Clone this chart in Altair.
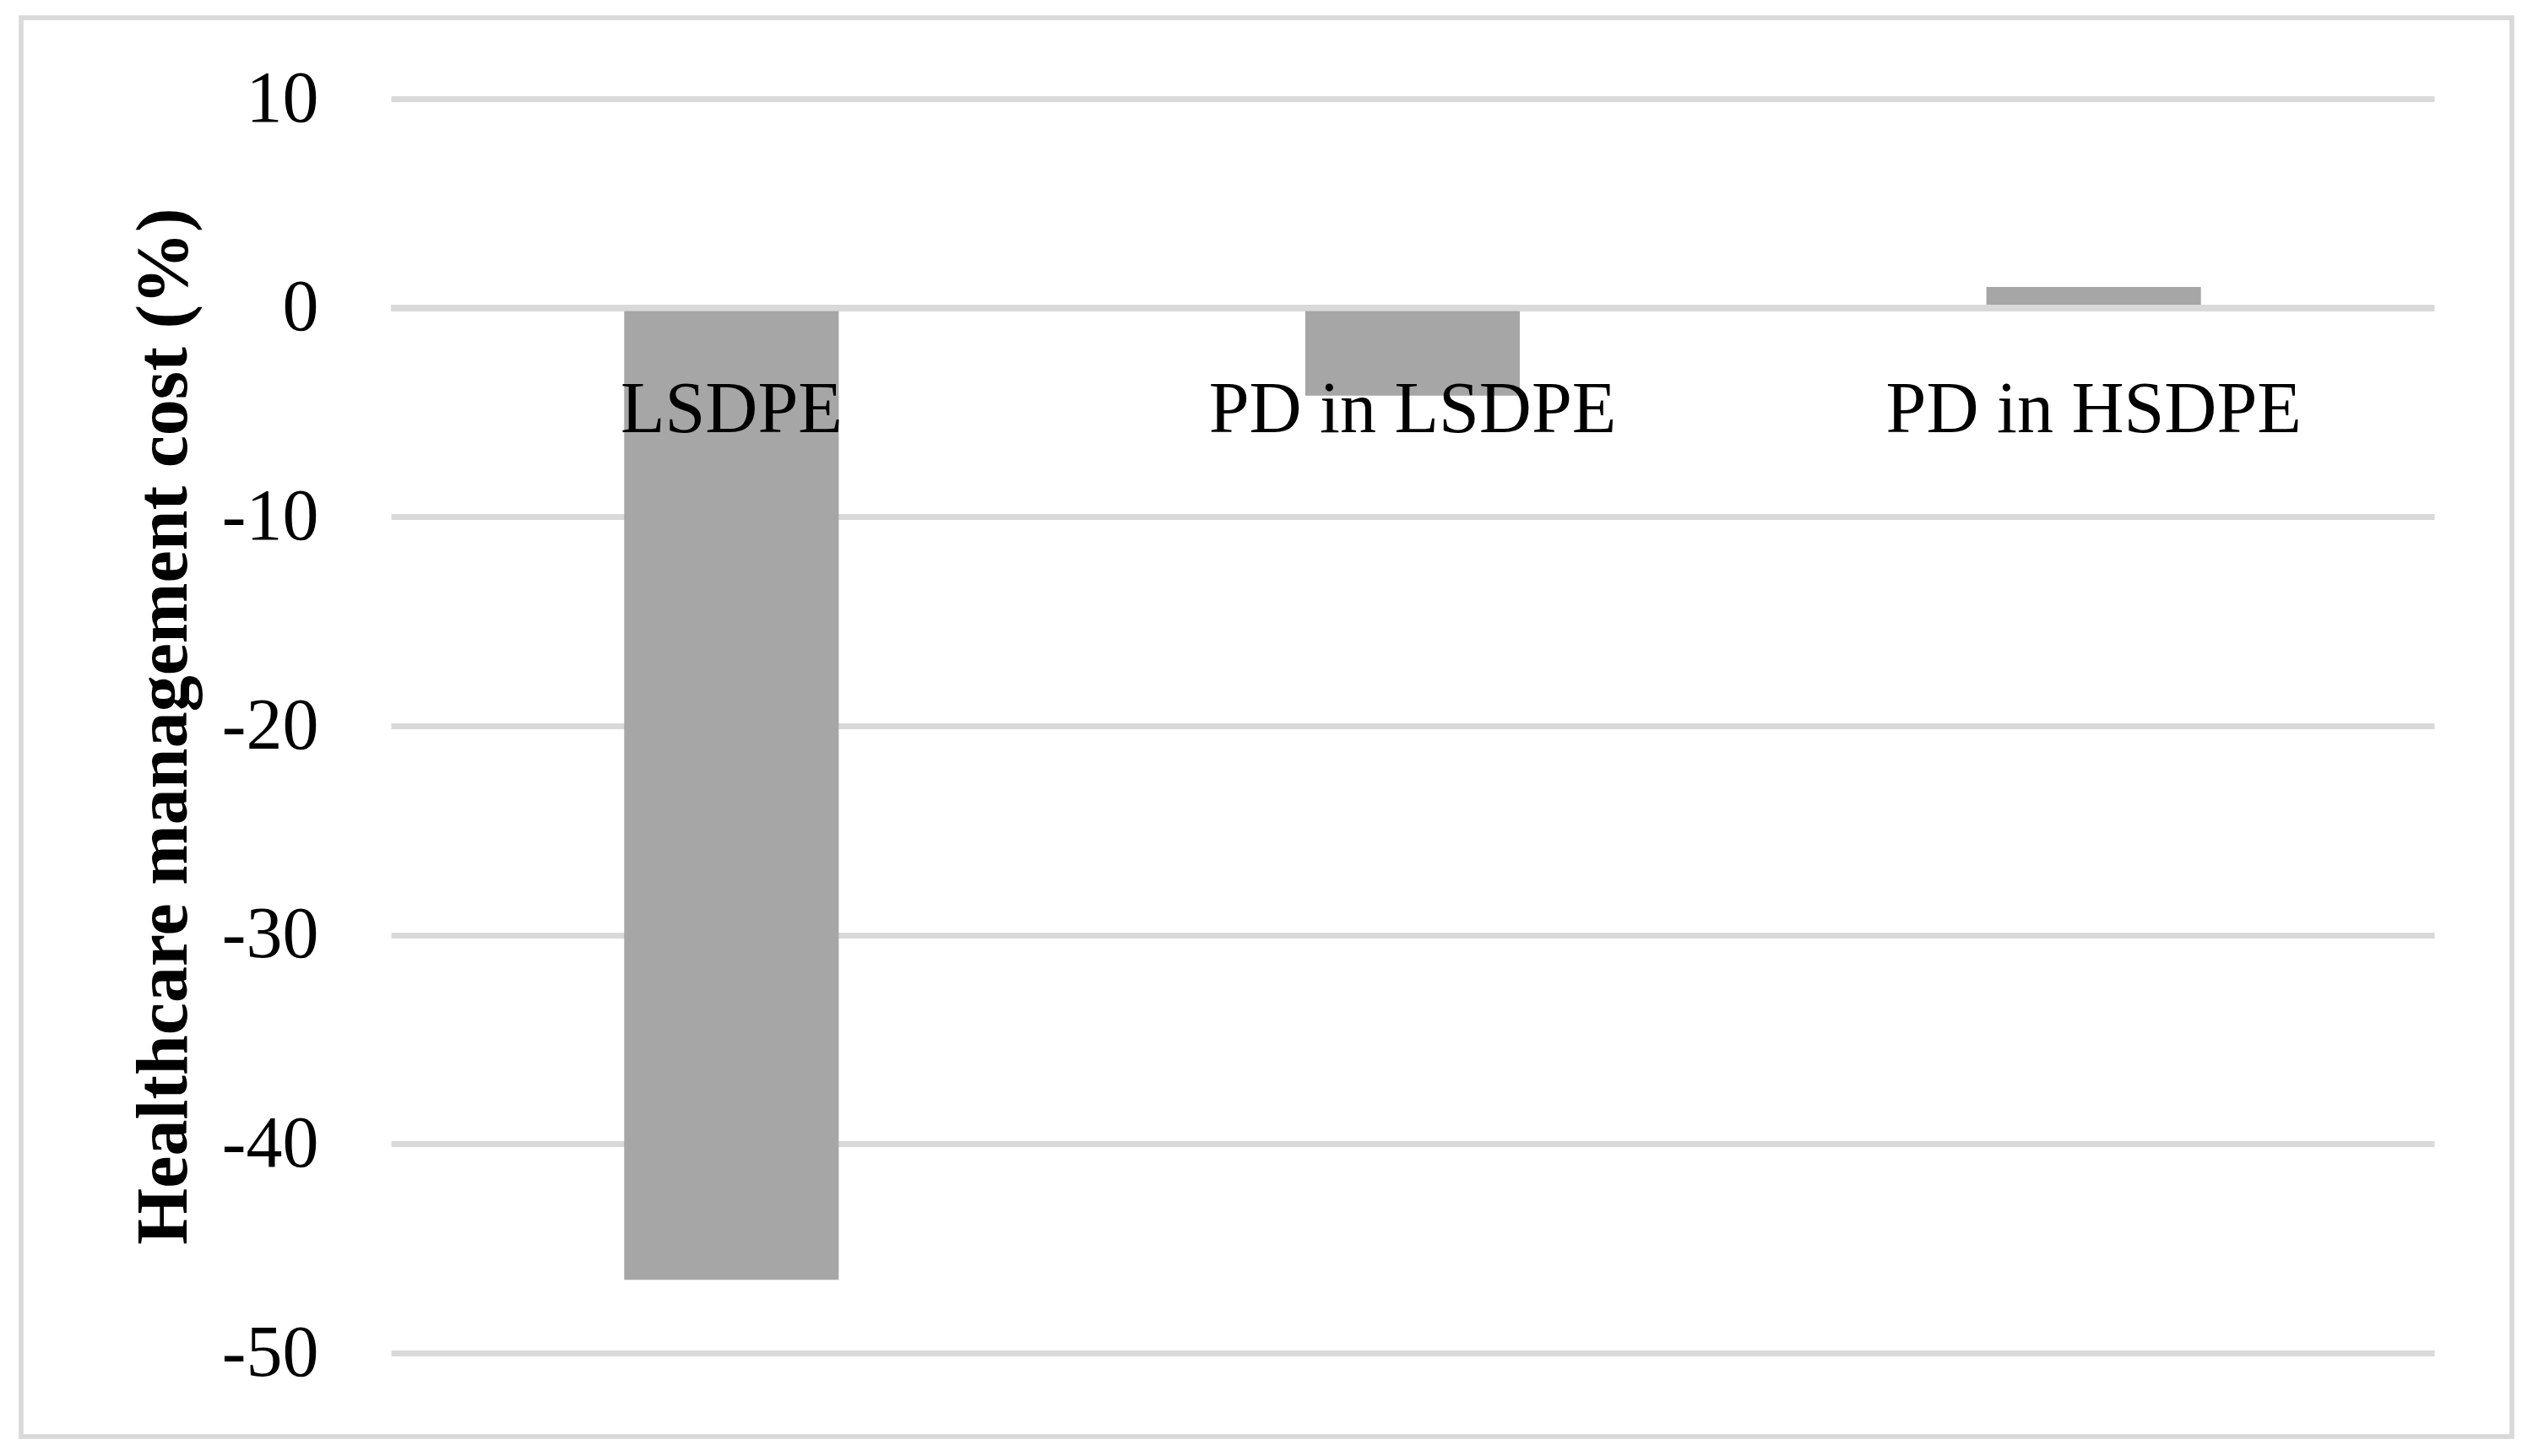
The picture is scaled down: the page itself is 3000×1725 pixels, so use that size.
import altair as alt
import pandas as pd

categories = ["LSDPE", "PD in LSDPE", "PD in HSDPE"]
values = [-46.5, -4.2, 1.0]
y_ticks = [10, 0, -10, -20, -30, -40, -50]
y_title = "Healthcare management cost (%)"

df = pd.DataFrame({"category": categories, "value": values})

W, H = 2420, 1486
FONT = "Liberation Serif"
GRID = "#d9d9d9"
BAR = "#a6a6a6"

base = alt.Chart(df)

frame = base.mark_rect(fill=None, stroke=GRID, strokeWidth=5).encode(
    x=alt.value(-438), x2=alt.value(2512), y=alt.value(-96), y2=alt.value(1585)
)

bars = base.mark_bar(color=BAR).encode(
    x=alt.X(
        "category:N",
        sort=categories,
        scale=alt.Scale(paddingInner=0.685, paddingOuter=0.3425),
        axis=alt.Axis(
            title=None, domain=False, ticks=False, tickSize=0,
            labelFont=FONT, labelFontSize=86, labelColor="black", labelLimit=0,
            labelAngle=0, labelBaseline="alphabetic", labelPadding=146,
            offset=-1238, zindex=2,
        ),
    ),
    y=alt.Y(
        "value:Q",
        scale=alt.Scale(domain=[-50, 10], nice=False, zero=False),
        axis=alt.Axis(
            values=y_ticks, labelExpr="datum.value + ''",
            domain=False, ticks=False, tickSize=0,
            grid=True, gridColor=GRID, gridWidth=7,
            labelFont=FONT, labelFontSize=86, labelColor="black", labelPadding=86,
            title=y_title, titleFont=FONT, titleFontSize=86, titleFontWeight="bold",
            titleColor="black", titleAngle=270, titleX=-243, titleY=743,
            titleAlign="center", titleBaseline="alphabetic",
        ),
    ),
)

zero_rule = base.mark_rule(color=GRID, strokeWidth=7).encode(y=alt.datum(0))

chart = alt.layer(frame, bars, zero_rule).properties(
    width=W, height=H,
    autosize=alt.AutoSizeParams(type="none"),
    padding={"left": 455, "top": 109, "right": 100, "bottom": 110},
    background="white",
).configure_view(stroke=None)

chart.save("out.html", embed_options={"renderer": "svg", "actions": False})
